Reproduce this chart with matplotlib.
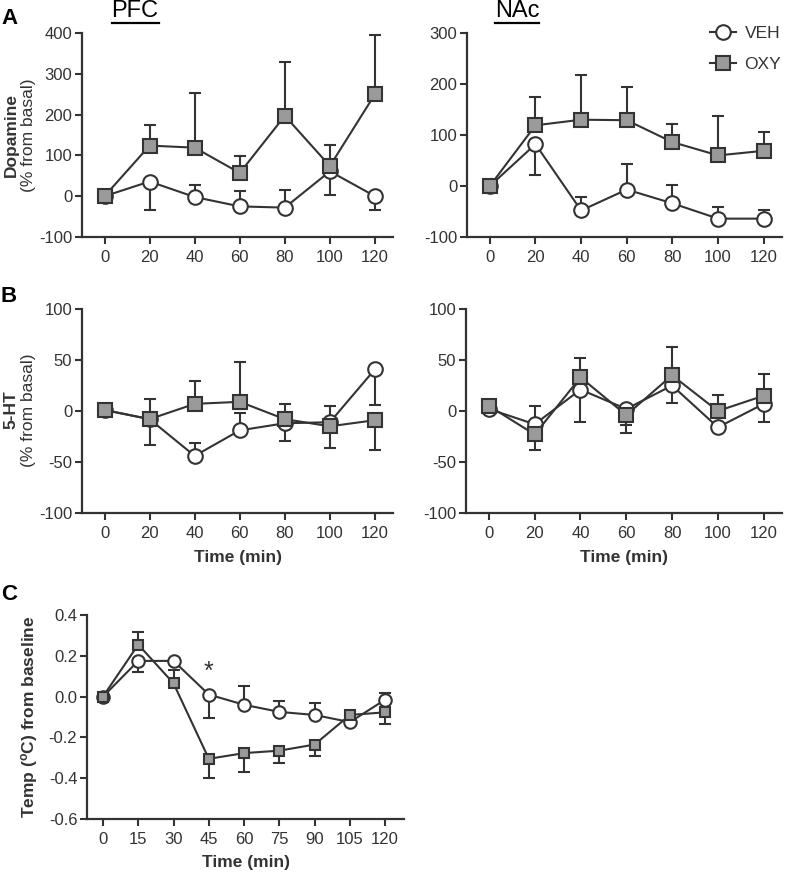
import matplotlib
matplotlib.use("Agg")
import matplotlib.pyplot as plt
import numpy as np
from matplotlib.lines import Line2D

plt.rcParams['font.family'] = ['Liberation Sans', 'DejaVu Sans']
plt.rcParams['axes.unicode_minus'] = False
TXT = '#333333'
LC = '#333333'
GREY = '#9a9a9a'

# ---- data ----
t_micro = [0, 20, 40, 60, 80, 100, 120]
t_temp = [0, 15, 30, 45, 60, 75, 90, 105, 120]

# Dopamine PFC
da_pfc_veh = [0, 36, -2, -25, -28, 61, 0]
da_pfc_veh_err = [0, -71, 29, 38, 44, -57, -35]  # signed: + up, - down
da_pfc_oxy = [0, 124, 119, 57, 197, 74, 250]
da_pfc_oxy_err = [0, 50, 135, 41, 131, 51, 144]

# Dopamine NAc
da_nac_veh = [0, 82, -48, -7, -34, -64, -64]
da_nac_veh_err = [0, -61, 27, 51, 35, 22, 16]
da_nac_oxy = [0, 119, 130, 129, 86, 60, 69]
da_nac_oxy_err = [0, 56, 87, 65, 36, 77, 36]

# 5-HT PFC
ht_pfc_veh = [1, -8, -44, -19, -12, -11, 41]
ht_pfc_veh_err = [0, 20, 13, 17, -17, 16, -35]
ht_pfc_oxy = [1, -8, 7, 9, -8, -15, -9]
ht_pfc_oxy_err = [0, -25, 22, 39, 15, -21, -29]

# 5-HT NAc
ht_nac_veh = [2, -13, 21, 2, 25, -16, 7]
ht_nac_veh_err = [0, 18, -32, -16, -17, -4, -18]
ht_nac_oxy = [5, -23, 33, -4, 35, 0, 15]
ht_nac_oxy_err = [0, -15, 19, -18, 28, 16, 21]

# Temperature
tmp_veh = [0, 0.175, 0.175, 0.01, -0.04, -0.075, -0.09, -0.125, -0.015]
tmp_veh_err = [0, -0.055, 0, -0.115, 0.093, 0.055, 0.06, -0.01, 0.035]
tmp_oxy = [0, 0.255, 0.065, -0.305, -0.277, -0.265, -0.235, -0.09, -0.077]
tmp_oxy_err = [0, 0.06, 0.065, -0.095, -0.093, -0.06, -0.055, -0.02, -0.058]

W, H = 793, 872
fig = plt.figure(figsize=(W / 100, H / 100), dpi=100)


def ax_px(l, r, t, b):
    return fig.add_axes([l / W, 1 - b / H, (r - l) / W, (b - t) / H])


def signed_err(err):
    err = np.asarray(err, float)
    lower = np.where(err < 0, -err, 0)
    upper = np.where(err > 0, err, 0)
    return [lower, upper]


def plot_series(ax, x, y, err, kind, ms):
    if kind == 'veh':
        mk, fc, z = 'o', 'white', 3
    else:
        mk, fc, z = 's', GREY, 4
    ax.errorbar(x, y, yerr=signed_err(err), fmt='none', ecolor=LC,
                elinewidth=1.5, capsize=4.5, capthick=1.5, zorder=z - 1)
    ax.plot(x, y, color=LC, lw=1.5, marker=mk, markersize=ms,
            markerfacecolor=fc, markeredgecolor=LC, markeredgewidth=1.5,
            zorder=z)


def style(ax, xlim, ylim, xticks, yticks, yfmt=None):
    ax.set_xlim(*xlim)
    ax.set_ylim(*ylim)
    ax.set_xticks(xticks)
    ax.set_yticks(yticks)
    if yfmt:
        ax.set_yticklabels([yfmt.format(v) for v in yticks])
    for s in ['top', 'right']:
        ax.spines[s].set_visible(False)
    for s in ['left', 'bottom']:
        ax.spines[s].set_linewidth(1.6)
        ax.spines[s].set_color(LC)
    ax.tick_params(axis='both', direction='out', length=5, width=1.5,
                   colors=LC, labelsize=12, labelcolor=TXT, pad=2)
    ax.tick_params(axis='x', pad=4)


xl = (-10, 128)

# A PFC
a1 = ax_px(82, 393, 33, 237)
plot_series(a1, t_micro, da_pfc_veh, da_pfc_veh_err, 'veh', 10.5)
plot_series(a1, t_micro, da_pfc_oxy, da_pfc_oxy_err, 'oxy', 10.5)
style(a1, xl, (-100, 400), t_micro, [-100, 0, 100, 200, 300, 400])

# A NAc
a2 = ax_px(467, 782, 33, 237)
plot_series(a2, t_micro, da_nac_veh, da_nac_veh_err, 'veh', 10.5)
plot_series(a2, t_micro, da_nac_oxy, da_nac_oxy_err, 'oxy', 10.5)
style(a2, xl, (-100, 300), t_micro, [-100, 0, 100, 200, 300])

# B PFC
b1 = ax_px(82, 393, 309, 513)
plot_series(b1, t_micro, ht_pfc_veh, ht_pfc_veh_err, 'veh', 10.5)
plot_series(b1, t_micro, ht_pfc_oxy, ht_pfc_oxy_err, 'oxy', 10.5)
style(b1, xl, (-100, 100), t_micro, [-100, -50, 0, 50, 100])
b1.set_xlabel('Time (min)', fontsize=12.5, fontweight='bold', color=TXT, labelpad=7)

# B NAc
b2 = ax_px(466, 782, 309, 513)
plot_series(b2, t_micro, ht_nac_veh, ht_nac_veh_err, 'veh', 10.5)
plot_series(b2, t_micro, ht_nac_oxy, ht_nac_oxy_err, 'oxy', 10.5)
style(b2, xl, (-100, 100), t_micro, [-100, -50, 0, 50, 100])
b2.set_xlabel('Time (min)', fontsize=12.5, fontweight='bold', color=TXT, labelpad=7)

# C
c1 = ax_px(87, 404, 615, 819)
plot_series(c1, t_temp, tmp_veh, tmp_veh_err, 'veh', 9)
plot_series(c1, t_temp, tmp_oxy, tmp_oxy_err, 'oxy', 7.5)
style(c1, (-6.8, 128), (-0.6, 0.4), t_temp, [-0.6, -0.4, -0.2, 0.0, 0.2, 0.4], '{:.1f}')
c1.set_xlabel('Time (min)', fontsize=12.5, fontweight='bold', color=TXT, labelpad=6)
c1.set_ylabel('Temp ($\\mathregular{^o}$C) from baseline', fontsize=12.5,
              fontweight='bold', color=TXT, labelpad=6)
c1.text(45, 0.12, '*', ha='center', va='center', fontsize=18, color=TXT)

# y labels for A and B (two-line, first bold)
for y_c, top in [(135, 'Dopamine'), (410, '5-HT')]:
    fig.text(11 / W, 1 - y_c / H, top, rotation=90, ha='center', va='center',
             fontsize=12.5, fontweight='bold', color=TXT)
    fig.text(29 / W, 1 - y_c / H, '(% from basal)', rotation=90, ha='center',
             va='center', fontsize=12.5, color=TXT)

# panel letters
for y, s in [(18, 'A'), (297, 'B'), (594, 'C')]:
    fig.text(1 / W, 1 - y / H, s, fontsize=16, fontweight='bold', va='center',
             ha='left', color='black')

# region titles (underlined)
for xc, s in [(135, 'PFC'), (517, 'NAc')]:
    t = fig.text(xc / W, 1 - 11 / H, s, fontsize=17, ha='center', va='center', color='black')
    fig.canvas.draw()
    bb = t.get_window_extent()
    fig.add_artist(Line2D([bb.x0 / W, bb.x1 / W], [(bb.y0 - 1) / H, (bb.y0 - 1) / H],
                          color='black', lw=1.6))

# legend
h_veh = Line2D([], [], color=LC, lw=1.5, marker='o', markersize=10.5,
               markerfacecolor='white', markeredgecolor=LC, markeredgewidth=1.5)
h_oxy = Line2D([], [], color=LC, lw=1.5, marker='s', markersize=10.5,
               markerfacecolor=GREY, markeredgecolor=LC, markeredgewidth=1.5)
fig.legend([h_veh, h_oxy], ['VEH', 'OXY'], loc='upper right',
           bbox_to_anchor=(1.0 + 4 / W, 1 - 10 / H), frameon=False, fontsize=12.5,
           handlelength=1.5, labelspacing=0.95, handletextpad=0.5, labelcolor=TXT)

fig.savefig('out.png', dpi=100)
